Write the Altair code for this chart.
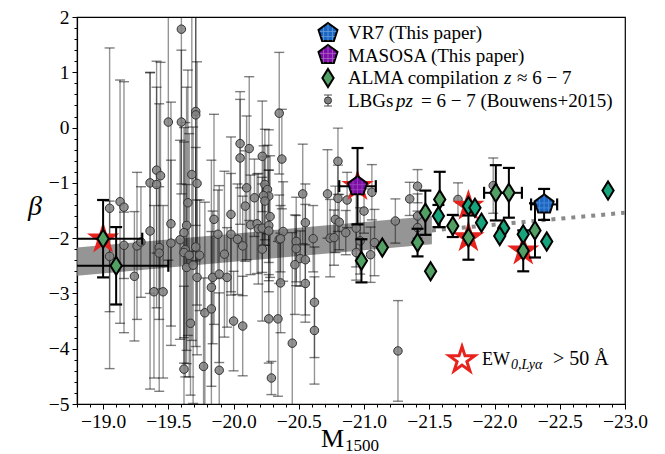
import altair as alt
import pandas as pd

# ---------------- data ----------------
LBG_M = [-19.05, -19.13, -19.16, -19.05, -19.16, -19.24, -19.26, -19.29, -19.36, -19.36,
         -19.41, -19.41, -19.44, -19.43, -19.43, -19.39, -19.46, -19.52, -19.52, -19.50,
         -19.60, -19.60, -19.71, -19.71, -19.65, -19.68, -19.72, -19.59, -19.63, -19.64,
         -19.64, -19.62, -19.62, -19.66, -19.69, -19.71, -19.72, -19.74, -19.67, -19.78,
         -19.83, -19.83, -19.84, -19.85, -19.88, -19.89, -19.93, -19.95, -19.98, -19.98,
         -20.00, -20.07, -20.03, -20.05, -20.12, -20.05, -20.09, -20.10, -20.07, -20.13,
         -20.16, -20.18, -20.19, -20.22, -20.22, -20.22, -20.24, -20.26, -20.27, -20.23,
         -20.24, -20.27, -20.27, -20.27, -20.34, -20.28, -20.35, -20.35, -20.37, -20.53,
         -20.72, -20.55, -20.38, -20.36, -20.48, -20.48, -20.61, -20.74, -20.51, -20.45,
         -20.47, -20.55, -20.36, -20.55, -20.62, -20.62, -19.62, -19.77, -19.89, -20.29,
         -20.80, -20.80, -20.87, -21.06, -21.00, -20.78, -20.81, -20.86, -20.77, -20.94,
         -21.24, -21.35, -21.41, -21.41, -21.41, -20.97, -21.08, -20.94, -21.05, -21.72,
         -21.99, -21.26]
LBG_BETA = [-1.46, -1.34, -1.44, -2.33, -2.13, -2.69, -2.14, -2.07, -1.87, -1.00,
            -1.03, -0.77, -0.87, -2.17, -2.27, -2.97, -2.97, -1.74, -2.09, 0.10,
            0.10, 1.78, 0.29, 0.23, -1.36, -0.85, -1.01, -2.03, -2.21, -2.53,
            -1.77, -1.90, -2.26, -2.31, -2.49, -2.16, -2.71, -2.31, -3.54, -3.35,
            -3.28, -2.89, -2.71, -1.66, -1.93, -2.65, -2.29, -2.71, -1.57, -1.93,
            -3.50, -3.59, -2.02, -0.55, -0.38, -0.29, -1.42, -1.09, -2.14, -1.76,
            -1.27, -1.74, -1.83, -1.82, -2.20, -0.52, -1.03, -1.12, -1.24, -1.23,
            -1.33, -1.77, -1.87, -3.46, -3.46, -1.61, -2.02, 0.26, -0.57, -1.20,
            -1.20, -1.72, -1.88, -2.01, -2.06, -2.19, -2.01, -2.00, -2.37, -3.90,
            -2.48, -2.39, -2.81, -2.82, -3.16, -3.67, -4.37, -4.32, -4.39, -4.53,
            -0.61, -1.28, -1.31, -1.17, -1.51, -1.66, -1.71, -1.90, -1.99, -1.82,
            -1.69, -1.29, -1.06, -1.60, -1.81, -2.05, -2.08, -2.26, -2.30, -1.30,
            -1.05, -4.04]
LBG_ERR = [2.90, 2.20, 2.27, 1.00, 0.60, 1.17, 1.33, 1.00, 2.86, 2.00,
           2.23, 1.50, 2.05, 2.60, 1.20, 1.56, 1.56, 2.20, 1.50, 2.50,
           1.30, 2.80, 2.70, 2.00, 2.40, 3.00, 2.20, 1.80, 2.30, 1.50,
           2.50, 1.90, 2.00, 2.20, 2.50, 1.80, 1.40, 1.00, 1.30, 2.00,
           1.40, 2.30, 1.20, 1.90, 0.80, 1.60, 1.50, 0.90, 1.40, 1.10,
           0.90, 0.90, 1.00, 1.20, 1.30, 0.80, 1.00, 1.30, 0.90, 0.90,
           0.70, 0.90, 1.00, 0.80, 1.30, 1.00, 1.00, 0.80, 1.20, 0.90,
           0.80, 1.00, 1.10, 0.80, 1.40, 1.10, 0.80, 1.10, 0.90, 0.90,
           0.80, 0.70, 0.90, 0.60, 0.80, 0.60, 0.60, 0.70, 0.50, 2.00,
           0.90, 1.00, 0.90, 0.70, 1.00, 0.97, 1.50, 1.60, 1.40, 0.30,
           0.60, 0.60, 0.50, 0.50, 0.40, 0.60, 0.50, 0.40, 0.50, 0.70,
           0.40, 0.30, 0.30, 0.40, 0.30, 0.60, 0.60, 0.50, 0.50, 0.30,
           0.50, 0.91]

ALMA_M = [-19.00, -19.10, -20.98, -21.14, -21.41, -21.47, -21.51, -21.58, -21.57, -21.68,
          -21.80, -21.85, -21.80, -21.90, -22.01, -22.11, -22.07, -22.04, -22.22, -22.22,
          -22.31, -22.40, -22.87]
ALMA_BETA = [-2.01, -2.50, -2.41, -2.17, -2.08, -1.54, -2.60, -1.30, -1.60, -1.78,
             -1.42, -1.45, -1.99, -1.72, -1.18, -1.18, -1.82, -1.96, -1.93, -2.23,
             -1.86, -2.06, -1.14]
ALMA_YERR = [0.70, 0.70, 0.39, 0.00, 0.25, 0.40, 0.00, 0.50, 0.20, 0.20,
             0.00, 0.00, 0.40, 0.00, 0.50, 0.45, 0.00, 0.00, 0.00, 0.37,
             0.49, 0.00, 0.00]
ALMA_XERR = [0.30, 0.40, 0.00, 0.00, 0.00, 0.00, 0.00, 0.00, 0.00, 0.00,
             0.00, 0.00, 0.00, 0.00, 0.09, 0.10, 0.00, 0.00, 0.00, 0.00,
             0.00, 0.00, 0.00]
ALMA_TONE = ["a", "a", "a", "a", "a", "a", "a", "a", "b", "a",
             "b", "b", "a", "b", "a", "a", "b", "b", "b", "a",
             "a", "b", "b"]
ALMA_LAE = [True, False, False, False, False, False, False, False, False, False,
            True, False, True, False, False, False, False, False, False, True,
            False, False, False]

THIS_NAME = ["VR7", "MASOSA"]
THIS_M = [-22.38, -20.95]
THIS_BETA = [-1.39, -1.06]
THIS_YERR = [0.28, 0.69]
THIS_XERR = [0.10, 0.14]
THIS_LAE = [False, True]

FIT_M = [-18.8, -21.52]
FIT_HI = [-2.17, -1.60]
FIT_LO = [-2.68, -2.11]
EXT_M = [-21.52, -23.0]
EXT_BETA = [-1.86, -1.54]

X_TICKS = [round(-23.0 + 0.1 * i, 1) for i in range(0, 43)]
Y_TICKS = [round(-5.0 + 0.2 * i, 1) for i in range(0, 36)]

# ---------------- tables ----------------
lbg = pd.DataFrame({"M": LBG_M, "beta": LBG_BETA, "err": LBG_ERR})
lbg["lo"] = lbg["beta"] - lbg["err"]
lbg["hi"] = lbg["beta"] + lbg["err"]
lbg_caps = pd.concat([pd.DataFrame({"M": lbg["M"], "b": lbg["lo"]}),
                      pd.DataFrame({"M": lbg["M"], "b": lbg["hi"]})])

alma = pd.DataFrame({"M": ALMA_M, "beta": ALMA_BETA, "yerr": ALMA_YERR,
                     "xerr": ALMA_XERR, "tone": ALMA_TONE, "lae": ALMA_LAE})
alma["lo"] = alma["beta"] - alma["yerr"]
alma["hi"] = alma["beta"] + alma["yerr"]
alma["ml"] = alma["M"] - alma["xerr"]
alma["mr"] = alma["M"] + alma["xerr"]

this = pd.DataFrame({"name": THIS_NAME, "M": THIS_M, "beta": THIS_BETA,
                     "yerr": THIS_YERR, "xerr": THIS_XERR, "lae": THIS_LAE})
this["lo"] = this["beta"] - this["yerr"]
this["hi"] = this["beta"] + this["yerr"]
this["ml"] = this["M"] - this["xerr"]
this["mr"] = this["M"] + this["xerr"]

yerr_src = pd.concat([alma[alma["yerr"] > 0][["M", "beta", "lo", "hi"]],
                      this[["M", "beta", "lo", "hi"]]])
ycaps = pd.concat([pd.DataFrame({"M": yerr_src["M"], "b": yerr_src["lo"]}),
                   pd.DataFrame({"M": yerr_src["M"], "b": yerr_src["hi"]})])
xerr_src = pd.concat([alma[alma["xerr"] > 0][["M", "beta", "ml", "mr"]],
                      this[["M", "beta", "ml", "mr"]]])
xcaps = pd.concat([pd.DataFrame({"m": xerr_src["ml"], "beta": xerr_src["beta"]}),
                   pd.DataFrame({"m": xerr_src["mr"], "beta": xerr_src["beta"]})])

stars = pd.concat([alma[alma["lae"]][["M", "beta"]], this[this["lae"]][["M", "beta"]]])
alma_a = alma[alma["tone"] == "a"][["M", "beta"]]
alma_b = alma[alma["tone"] == "b"][["M", "beta"]]
vr7 = this[this["name"] == "VR7"][["M", "beta"]]
masosa = this[this["name"] == "MASOSA"][["M", "beta"]]

band = pd.DataFrame({"M": FIT_M, "hi": FIT_HI, "lo": FIT_LO})
ext = pd.DataFrame({"M": EXT_M, "beta": EXT_BETA})
ONE = pd.DataFrame({"k": [0]})

# ---------------- scales / axes ----------------
FONT = "Liberation Serif"
XS = alt.Scale(domain=[-23.0, -18.8], reverse=True, nice=False, zero=False)
YS = alt.Scale(domain=[-5, 2], nice=False, zero=False)
XMAJ = "abs(datum.value*2 - round(datum.value*2)) < 0.001"
YMAJ = "abs(datum.value - round(datum.value)) < 0.001"
XAX = alt.Axis(orient="bottom", values=X_TICKS, title=None, grid=False, labelOverlap=False,
               labelFlush=False,
               labelExpr=f"{XMAJ} ? format(datum.value, '.1f') : ''",
               tickSize={"condition": {"test": XMAJ, "value": 5}, "value": 3},
               labelFont=FONT, labelFontSize=19.5, labelColor="black", labelPadding=3,
               tickColor="black", domainColor="black", domainWidth=1.2)
YAX = alt.Axis(orient="left", values=Y_TICKS, title=None, grid=False, labelOverlap=False,
               labelFlush=False,
               labelExpr=f"{YMAJ} ? format(datum.value, 'd') : ''",
               tickSize={"condition": {"test": YMAJ, "value": 5}, "value": 3},
               labelFont=FONT, labelFontSize=19.5, labelColor="black", labelPadding=3,
               tickColor="black", domainColor="black", domainWidth=1.2)


def X(f):
    return alt.X(f, type="quantitative", scale=XS, axis=XAX)


def Y(f):
    return alt.Y(f, type="quantitative", scale=YS, axis=YAX)


DIAMOND = "M0,-1L0.62,0L0,1L-0.62,0Z"
PENTA = "M0,-1L0.951,-0.309L0.588,0.809L-0.588,0.809L-0.951,-0.309Z"
HATCH = "M-0.45,-0.55L-0.45,0.8M0,-0.95L0,0.8M0.45,-0.55L0.45,0.8M-0.85,-0.15L0.85,-0.15M-0.72,0.35L0.72,0.35"
STAR = ("M0,-1L0.2245,-0.309L0.951,-0.309L0.3633,0.118L0.588,0.809L0,0.382"
        "L-0.588,0.809L-0.3633,0.118L-0.951,-0.309L-0.2245,-0.309Z")
GREEN_A, GREEN_B = "#52a064", "#17a37b"
BLUE, PURPLE = "#1a66c4", "#7d0fa6"

layers = []
layers.append(alt.Chart(band).mark_area(color="#7a7a7a", opacity=0.8, clip=True).encode(
    x=X("M"), y=Y("lo"), y2="hi"))
layers.append(alt.Chart(ext).mark_line(color="#8a8a8a", strokeWidth=4, strokeDash=[4, 6], clip=True).encode(
    x=X("M"), y=Y("beta")))
layers.append(alt.Chart(lbg).mark_rule(color="black", opacity=0.42, strokeWidth=1.4, clip=True).encode(
    x=X("M"), y=Y("lo"), y2="hi"))
layers.append(alt.Chart(lbg_caps).mark_tick(color="black", opacity=0.5, size=10, thickness=1.4,
                                            orient="horizontal", clip=True).encode(
    x=X("M"), y=Y("b")))
layers.append(alt.Chart(lbg).mark_point(shape="circle", filled=True, fill="#808080", fillOpacity=0.85,
                                        stroke="#333333", strokeWidth=1, size=72, clip=True).encode(
    x=X("M"), y=Y("beta")))
layers.append(alt.Chart(stars).mark_point(shape=STAR, filled=True, color="#e8221c", opacity=1,
                                          size=1150, clip=True).encode(x=X("M"), y=Y("beta")))
layers.append(alt.Chart(yerr_src).mark_rule(color="black", strokeWidth=2, clip=True).encode(
    x=X("M"), y=Y("lo"), y2="hi"))
layers.append(alt.Chart(ycaps).mark_tick(color="black", size=12, thickness=2.2, orient="horizontal",
                                         opacity=1, clip=True).encode(x=X("M"), y=Y("b")))
layers.append(alt.Chart(xerr_src).mark_rule(color="black", strokeWidth=2, clip=True).encode(
    x=X("ml"), x2="mr", y=Y("beta")))
layers.append(alt.Chart(xcaps).mark_tick(color="black", size=12, thickness=2.2, orient="vertical",
                                         opacity=1, clip=True).encode(x=X("m"), y=Y("beta")))
for df, col in ((alma_a, GREEN_A), (alma_b, GREEN_B)):
    layers.append(alt.Chart(df).mark_point(shape=DIAMOND, filled=True, fill=col, stroke="black",
                                           strokeWidth=2, opacity=1, size=330, clip=True).encode(
        x=X("M"), y=Y("beta")))
for df, col, hcol in ((vr7, BLUE, "#8fb6ea"), (masosa, PURPLE, "#c07adb")):
    layers.append(alt.Chart(df).mark_point(shape=PENTA, filled=True, fill=col, stroke="black",
                                           strokeWidth=2, opacity=1, size=400, clip=True).encode(
        x=X("M"), y=Y("beta")))
    layers.append(alt.Chart(df).mark_point(shape=HATCH, filled=False, stroke=hcol, strokeWidth=0.8,
                                           opacity=0.5, size=400, clip=True).encode(
        x=X("M"), y=Y("beta")))

# ---------------- legend (top right) ----------------
LX, TX = 251, 271
for yy, col in ((16, BLUE), (38, PURPLE)):
    layers.append(alt.Chart(ONE).mark_point(shape=PENTA, filled=True, fill=col, stroke="black",
                                            strokeWidth=2, opacity=1, size=400).encode(
        x=alt.value(LX), y=alt.value(yy)))
    layers.append(alt.Chart(ONE).mark_point(shape=HATCH, filled=False, stroke="white", strokeWidth=0.8,
                                            opacity=0.35, size=400).encode(
        x=alt.value(LX), y=alt.value(yy)))
layers.append(alt.Chart(ONE).mark_point(shape=DIAMOND, filled=True, fill=GREEN_A, stroke="black",
                                        strokeWidth=2, opacity=1, size=330).encode(
    x=alt.value(LX), y=alt.value(61)))
layers.append(alt.Chart(ONE).mark_rule(color="black", opacity=0.45, strokeWidth=1.4).encode(
    x=alt.value(LX), y=alt.value(78), y2=alt.value(89)))
for yy in (78, 89):
    layers.append(alt.Chart(ONE).mark_rule(color="black", opacity=0.5, strokeWidth=1.4).encode(
        x=alt.value(LX - 4), x2=alt.value(LX + 4), y=alt.value(yy)))
layers.append(alt.Chart(ONE).mark_point(shape="circle", filled=True, fill="#808080", stroke="#333333",
                                        strokeWidth=1, opacity=1, size=50).encode(
    x=alt.value(LX), y=alt.value(83.5)))


def txt(s, x, y, size=19, style="normal", align="left"):
    return alt.Chart(ONE).mark_text(text=s, font=FONT, fontSize=size, fontStyle=style, align=align,
                                    baseline="alphabetic", color="black").encode(
        x=alt.value(x), y=alt.value(y))


layers.append(txt("VR7 (This paper)", TX, 21.5))
layers.append(txt("MASOSA (This paper)", TX, 44.5))
layers.append(txt("ALMA compilation", TX, 67))
layers.append(txt("z", 427, 67, style="italic"))
layers.append(txt("≈ 6 − 7", 440, 67))
layers.append(txt("LBGs", TX, 89.5))
layers.append(txt("pz", 319, 89.5, style="italic"))
layers.append(txt("= 6 − 7 (Bouwens+2015)", 344, 89.5))

# ---------------- bottom-right annotation ----------------
layers.append(alt.Chart(ONE).mark_point(shape=STAR, filled=False, stroke="#e8221c", strokeWidth=3,
                                        opacity=1, size=720).encode(x=alt.value(385), y=alt.value(343)))
layers.append(txt("EW", 405, 348, size=18))
layers.append(txt("0,Lyα", 434, 351.5, size=14, style="italic"))
layers.append(txt("> 50 Å", 476, 348, size=20))

# ---------------- axis titles ----------------
layers.append(txt("M", 244, 430, size=26))
layers.append(txt("1500", 268, 434, size=17))
layers.append(txt("β", -42, 198, size=28, style="italic", align="center"))

chart = alt.layer(*layers).properties(
    width=548, height=387,
    autosize=alt.AutoSizeParams(type="none"),
    padding={"left": 69, "top": 9, "right": 32, "bottom": 50},
).configure_view(stroke="black", strokeWidth=1.2).configure_axis(labelFont=FONT)

chart.save("out.html", embed_options={"renderer": "svg", "actions": False})
